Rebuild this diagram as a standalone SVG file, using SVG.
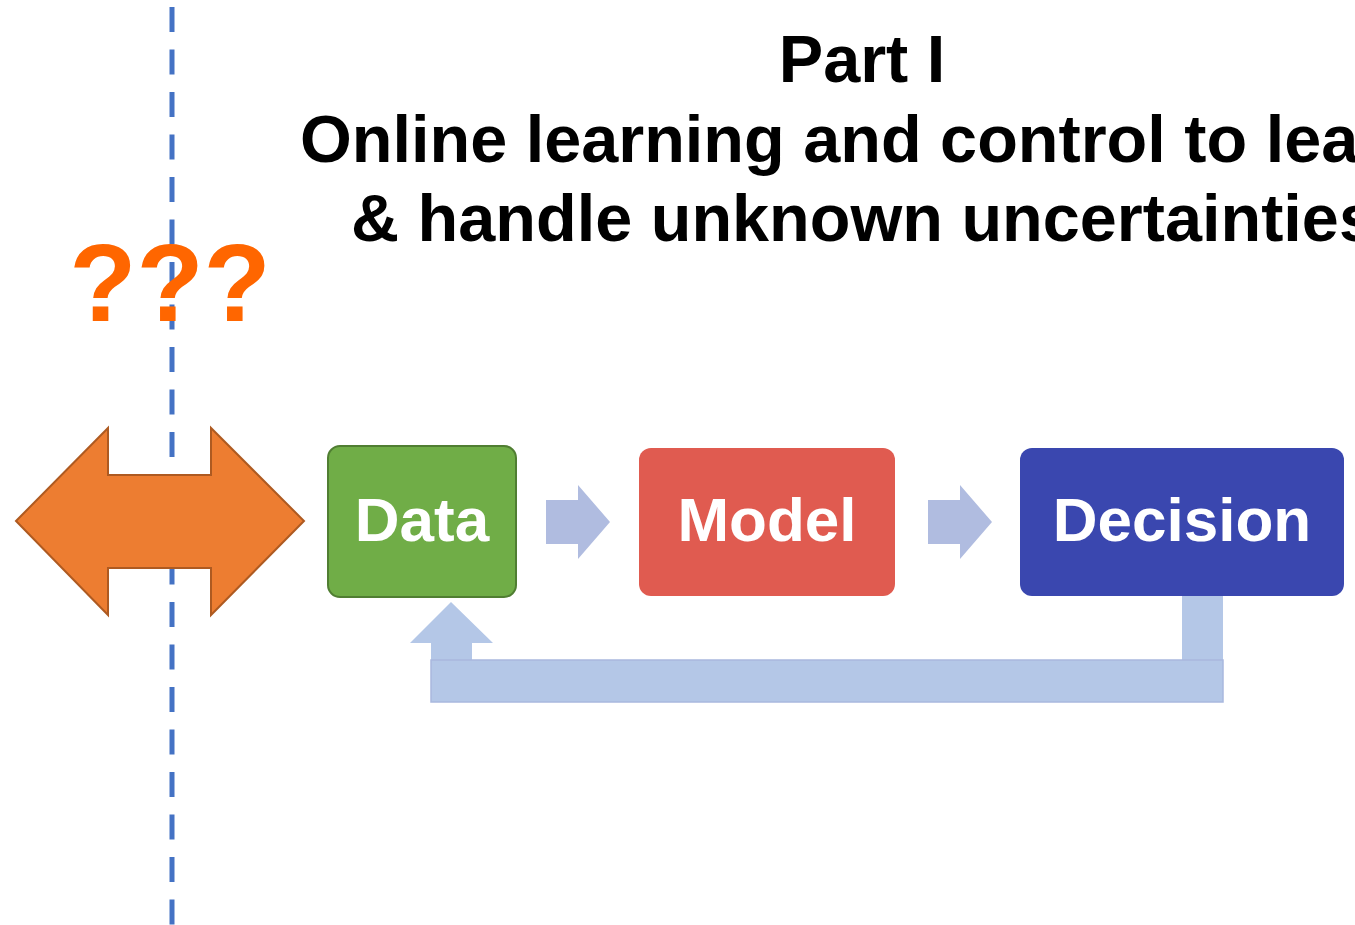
<svg xmlns="http://www.w3.org/2000/svg" width="1355" height="925" viewBox="0 0 1355 925">
  <style>
    .title { font-family: "Liberation Sans", Arial, sans-serif; font-weight: bold; font-size: 66.6px; fill: #000000; }
    .label { font-family: "Liberation Sans", Arial, sans-serif; font-weight: bold; font-size: 62px; fill: #FFFFFF; text-anchor: middle; }
    .flow { fill: #B0BCE0; }
    .loop { fill: #B4C7E7; }
  </style>

  <!-- vertical dashed divider -->
  <line x1="172" y1="7" x2="172" y2="925" stroke="#4472C4" stroke-width="5" stroke-dasharray="25 17.5"/>

  <!-- title -->
  <g id="title">
    <text class="title" x="862" y="82" text-anchor="middle">Part I</text>
    <text class="title" x="300" y="162">Online learning and control to learn</text>
    <text class="title" x="351" y="241">&amp; handle unknown uncertainties</text>
  </g>

  <!-- double-headed orange arrow -->
  <g id="exchange">
    <polygon points="16,521 108,428 108,475 211,475 211,428 304,521 211,615 211,568 108,568 108,615"
             fill="#ED7D31" stroke="#AE5A21" stroke-width="2" stroke-linejoin="miter"/>
  </g>

  <!-- question marks -->
  <g id="unknown">
    <text x="170" y="321" text-anchor="middle" font-family="'Liberation Sans', Arial, sans-serif" font-weight="bold" font-size="110" fill="#FF6600">???</text>
  </g>

  <!-- connectors -->
  <g id="connectors">
    <polygon class="flow" points="546,500 578,500 578,485 610,522 578,559 578,544 546,544"/>
    <polygon class="flow" points="928,500 960,500 960,485 992,522 960,559 960,544 928,544"/>
    <!-- feedback loop: Decision back to Data -->
    <rect class="loop" x="1182" y="592" width="41" height="70"/>
    <polygon class="loop" points="431,702 431,643 410,643 451,602 493,643 472,643 472,660 1223,660 1223,702"/>
    <rect x="431" y="660" width="792" height="42" fill="none" stroke="#A9B8DE" stroke-width="1.5"/>
  </g>

  <!-- nodes -->
  <g id="data">
    <rect x="328" y="446" width="188" height="151" rx="12" fill="#70AD47" stroke="#507E32" stroke-width="2"/>
    <text class="label" x="422" y="541">Data</text>
  </g>
  <g id="model">
    <rect x="639" y="448" width="256" height="148" rx="12" fill="#E05B50"/>
    <text class="label" x="767" y="541">Model</text>
  </g>
  <g id="decision">
    <rect x="1020" y="448" width="324" height="148" rx="12" fill="#3A47AF"/>
    <text class="label" x="1182" y="541">Decision</text>
  </g>
</svg>
